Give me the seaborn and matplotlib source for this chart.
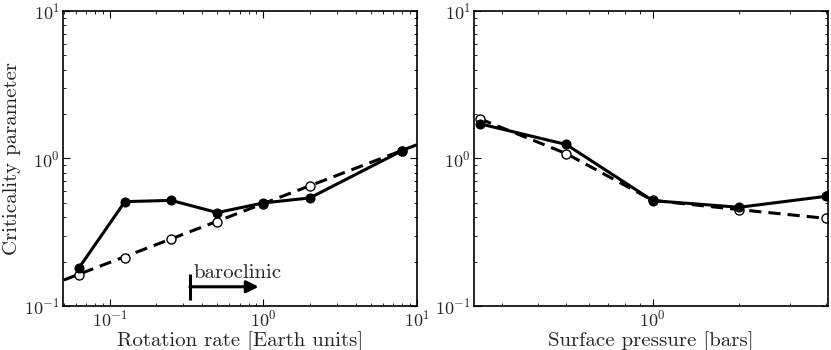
import numpy as np
import pandas as pd
import matplotlib
matplotlib.use("Agg")
import matplotlib.pyplot as plt
import seaborn as sns

# ------------------------
# data
# ------------------------
rot_x = [0.0625, 0.125, 0.25, 0.5, 1.0, 2.0, 8.0]
rot_solid = [0.18, 0.51, 0.52, 0.43, 0.50, 0.54, 1.13]
rot_open = [0.162, 0.213, 0.284, 0.373, 0.495, 0.655, 1.13]
# dashed power-law fit, drawn across the whole axis
rot_fit_x = [0.05, 10.0]
rot_fit_y = [0.15, 1.24]

pres_x = [0.25, 0.5, 1.0, 2.0, 4.0]
pres_solid = [1.72, 1.245, 0.518, 0.467, 0.554]
pres_open = [1.86, 1.08, 0.52, 0.45, 0.393]

# ------------------------
# style
# ------------------------
sns.set_style("ticks")
plt.rcParams["font.family"] = ["cmr10", "DejaVu Serif"]
plt.rcParams["mathtext.fontset"] = "cm"
plt.rcParams["axes.formatter.use_mathtext"] = True
plt.rcParams["axes.unicode_minus"] = False

fig = plt.figure(figsize=(8.31, 3.5), dpi=100)
ax1 = fig.add_axes([0.0758, 0.1257, 0.4260, 0.8429])
ax2 = fig.add_axes([0.5704, 0.1257, 0.4260, 0.8429])

lw = 2.2
dash = (0, (4, 2.3))
solid_kw = dict(color="black", lw=lw, marker="o", markersize=6.5,
                markerfacecolor="black", markeredgecolor="black")
open_kw = dict(color="black", lw=0, marker="o", markersize=6.5,
               markerfacecolor="white", markeredgecolor="black", markeredgewidth=1)

# left panel: rotation rate
sns.lineplot(x=rot_fit_x, y=rot_fit_y, ax=ax1, color="black", lw=lw,
             linestyle=dash, sort=False, errorbar=None)
sns.lineplot(x=rot_x, y=rot_open, ax=ax1, sort=False, errorbar=None, **open_kw)
sns.lineplot(x=rot_x, y=rot_solid, ax=ax1, sort=False, errorbar=None, **solid_kw)

# right panel: surface pressure
sns.lineplot(x=pres_x, y=pres_open, ax=ax2, sort=False, errorbar=None,
             color="black", lw=lw, linestyle=dash, marker="o", markersize=6.5,
             markerfacecolor="white", markeredgecolor="black", markeredgewidth=1)
sns.lineplot(x=pres_x, y=pres_solid, ax=ax2, sort=False, errorbar=None, **solid_kw)

for ax in (ax1, ax2):
    ax.set_xscale("log")
    ax.set_yscale("log")
    ax.set_ylim(0.1, 10)
    ax.tick_params(which="both", direction="in", top=True, right=True,
                   labelsize=13, color="black", pad=2)
    ax.tick_params(which="major", length=5, width=0.8)
    ax.tick_params(which="minor", length=2.5, width=0.6)
    for s in ax.spines.values():
        s.set_linewidth(1.2)
        s.set_color("black")

ax1.set_xlim(0.0494, 10)
ax2.set_xlim(0.239, 4.07)

ax1.set_xlabel("Rotation rate [Earth units]", fontsize=15, labelpad=1)
ax1.set_ylabel("Criticality parameter", fontsize=15, labelpad=2)
ax2.set_xlabel("Surface pressure [bars]", fontsize=15, labelpad=1)

# baroclinic marker
bar_x = 0.332
ax1.plot([bar_x, bar_x], [0.11, 0.166], color="black", lw=2.2, solid_capstyle="butt")
ax1.annotate("", xy=(0.93, 0.135), xytext=(bar_x, 0.135),
             arrowprops=dict(arrowstyle="-|>", lw=2.2, color="black",
                             mutation_scale=18, shrinkA=0, shrinkB=0))
ax1.text(0.35, 0.156, "baroclinic", fontsize=15, ha="left", va="baseline")

fig.savefig("out.png", dpi=100)
